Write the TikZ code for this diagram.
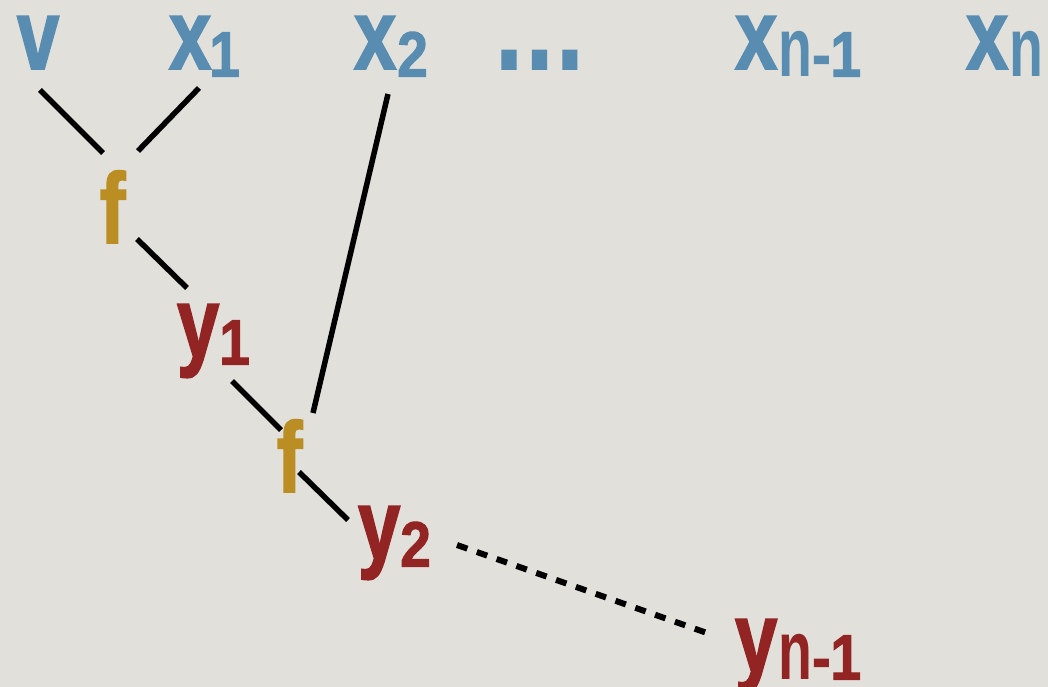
\documentclass[tikz,border=0pt]{standalone}
\usepackage{fontspec}
\newfontfamily\mainfnt[FakeStretch=0.76,FakeBold=1.6]{Liberation Sans Bold}
\newfontfamily\subnfnt[FakeStretch=0.66]{Liberation Sans Bold}
\newfontfamily\subdfnt[FakeStretch=0.86,FakeBold=1.6]{Liberation Sans Bold}
\newcommand{\bigtxt}[1]{{\fontsize{100pt}{100pt}\mainfnt #1}}
\newcommand{\dotstxt}{{\fontsize{123pt}{123pt}\mainfnt .\kern4.5pt.\kern4.5pt.}}
\newcommand{\subd}[1]{\raisebox{-7.5pt}{\fontsize{64pt}{64pt}\subdfnt #1}}
\newcommand{\subn}[1]{\raisebox{-7.5pt}{\fontsize{84pt}{84pt}\subnfnt #1}}
\definecolor{bgc}{HTML}{E1E0DB}
\definecolor{bluec}{HTML}{588DB1}
\definecolor{redc}{HTML}{922424}
\definecolor{goldc}{HTML}{BA8E22}
\tikzset{
  lbl/.style={anchor=base west, inner sep=0pt, outer sep=0pt},
  inp/.style={lbl, text=bluec},
  outp/.style={lbl, text=redc},
  fun/.style={lbl, text=goldc},
  wire/.style={line width=5.5pt, black, line cap=butt},
  dotwire/.style={wire, line width=6pt, dash pattern=on 11pt off 10pt}
}
\begin{document}
\begin{tikzpicture}[x=1pt,y=-1pt]
\fill[bgc] (0,0) rectangle (1048,687);
\useasboundingbox (0,0) rectangle (1048,687);
\clip (0,0) rectangle (1048,687);
% inputs
\node[inp] (v) at (17,69) {\bigtxt{v}};
\node[inp] (x1) at (169,69) {\bigtxt{x}\kern-2pt\subd{1}};
\node[inp] (x2) at (354,69) {\bigtxt{x}\kern1pt\subd{2}};
\node[inp] (dots) at (496,69) {\dotstxt};
\node[inp] (xn1) at (735,69) {\bigtxt{x}\kern1pt\subn{n}\kern0pt\subd{-1}};
\node[inp] (xn) at (966,69) {\bigtxt{x}\kern1pt\subn{n}};
% functions
\node[fun] (f1) at (100,243) {\bigtxt{f}};
\node[fun] (f2) at (277,492) {\bigtxt{f}};
% outputs
\node[outp] (y1) at (177,357) {\bigtxt{y}\subd{1}};
\node[outp] (y2) at (358,559) {\bigtxt{y}\subd{2}};
\node[outp] (yn1) at (735,672) {\bigtxt{y}\kern1pt\subn{n}\kern0pt\subd{-1}};
% connector end points
\coordinate (v-e) at (40,90);
\coordinate (f1-a) at (103,153);
\coordinate (x1-e) at (199,88);
\coordinate (f1-b) at (138,151);
\coordinate (f1-c) at (137,239);
\coordinate (y1-a) at (187,288);
\coordinate (y1-b) at (232,381);
\coordinate (f2-a) at (281,430);
\coordinate (x2-e) at (388,94);
\coordinate (f2-b) at (313,413);
\coordinate (f2-c) at (299,472);
\coordinate (y2-a) at (348,520);
\coordinate (y2-b) at (457,545);
\coordinate (yn1-a) at (707,633);
% connectors
\draw[wire] (v-e) -- (f1-a);
\draw[wire] (x1-e) -- (f1-b);
\draw[wire] (f1-c) -- (y1-a);
\draw[wire] (y1-b) -- (f2-a);
\draw[wire] (x2-e) -- (f2-b);
\draw[wire] (f2-c) -- (y2-a);
\draw[dotwire] (y2-b) -- (yn1-a);
\end{tikzpicture}
\end{document}
